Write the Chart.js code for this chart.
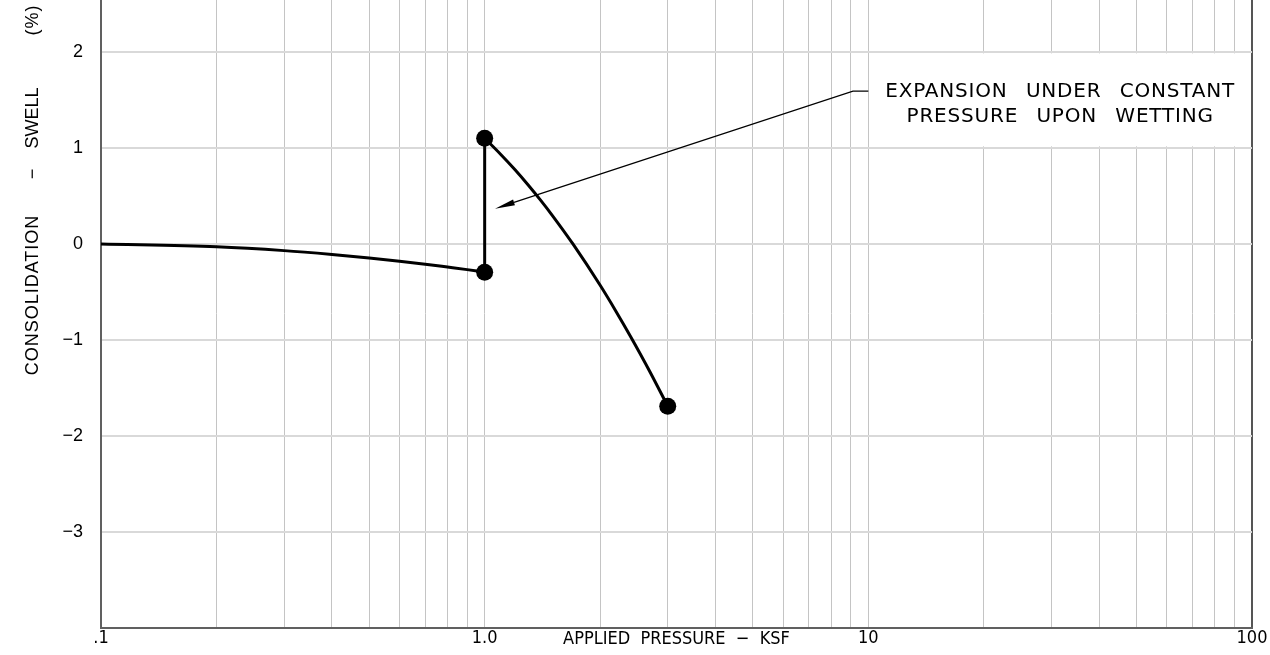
<!DOCTYPE html>
<html>
<head>
<meta charset="utf-8">
<script src="https://cdn.jsdelivr.net/npm/chart.js@4.4.1/dist/chart.umd.min.js"></script>
<style>
html,body{margin:0;padding:0;background:#ffffff;}
#wrap{width:1270px;height:655px;}
</style>
</head>
<body>
<div id="wrap"><canvas id="c" width="1270" height="655"></canvas></div>
<script>
// ---- data ----
const loadPressure   = [0.1, 0.2, 0.3, 0.4, 0.5, 0.6, 0.7, 0.8, 0.9, 1.0];
const loadStrain     = [0, -0.03, -0.07, -0.11, -0.146, -0.18, -0.211, -0.241, -0.268, -0.295];
const wetPressure    = [1.0, 1.0];
const wetStrain      = [-0.295, 1.10];
const reloadPressure = [1.0, 1.1, 1.2, 1.3, 1.4, 1.5, 1.7, 2.0, 2.2, 2.4, 2.7, 3.0];
const reloadStrain   = [1.10, 0.934, 0.772, 0.611, 0.453, 0.298, -0.003, -0.431, -0.703, -0.964, -1.336, -1.69];
const testPressure   = [1.0, 1.0, 3.0];
const testStrain     = [-0.295, 1.10, -1.69];

const xTickValues = [0.1,0.2,0.3,0.4,0.5,0.6,0.7,0.8,0.9,1,2,3,4,5,6,7,8,9,10,20,30,40,50,60,70,80,90,100];
const xLabelValues = [0.1, 1, 10, 100];
const xLabelTexts  = ['.1', '1.0', '10', '100'];
const yTickValues = [-4, -3, -2, -1, 0, 1, 2];
const yLabeledTicks = [-3, -2, -1, 0, 1, 2];

const xAxisTitle = 'APPLIED  PRESSURE  \u2212  KSF';
const yTitleParts = ['CONSOLIDATION', '\u2212', 'SWELL', '(%)'];
const noteLines = ['EXPANSION  UNDER  CONSTANT', 'PRESSURE  UPON  WETTING'];

const toPts = (xs, ys) => xs.map((v, i) => ({x: v, y: ys[i]}));

const CAD_FONT = "'DejaVu Sans Condensed', 'DejaVu Sans', sans-serif";
const SANS_FONT = "'Liberation Sans', Arial, sans-serif";

const notePlugin = {
  id: 'notePlugin',
  beforeDatasetsDraw(chart) {
    const {ctx, scales: {x, y}} = chart;
    const l = x.getPixelForValue(10) + 1.5, r = x.getPixelForValue(100) - 1.5;
    const t = y.getPixelForValue(2) + 1.5, b = y.getPixelForValue(1) - 1.5;
    ctx.save();
    ctx.fillStyle = '#ffffff';
    ctx.fillRect(l, t, r - l, b - t);
    ctx.restore();
  },
  afterDatasetsDraw(chart) {
    const {ctx, scales: {x, y}} = chart;
    ctx.save();
    ctx.fillStyle = '#000';
    ctx.font = "20px 'DejaVu Sans', sans-serif";
    if ('letterSpacing' in ctx) ctx.letterSpacing = '0.8px';
    if ('wordSpacing' in ctx) ctx.wordSpacing = '2px';
    ctx.textAlign = 'center';
    ctx.textBaseline = 'alphabetic';
    const cx = x.getPixelForValue(Math.sqrt(10 * 100));
    ctx.fillText(noteLines[0], cx, y.getPixelForValue(1.526));
    ctx.fillText(noteLines[1], cx, y.getPixelForValue(1.266));
    // leader + arrow
    const bx = x.getPixelForValue(10), ky = y.getPixelForValue(1.59);
    const kx = x.getPixelForValue(9.12);
    const tx = x.getPixelForValue(1.064), ty = y.getPixelForValue(0.367);
    ctx.strokeStyle = '#000';
    ctx.lineWidth = 1.3;
    ctx.beginPath();
    ctx.moveTo(bx, ky);
    ctx.lineTo(kx, ky);
    const ang = Math.atan2(ty - ky, tx - kx);
    const hl = 20, hw = 3;
    const baseX = tx - hl * Math.cos(ang), baseY = ty - hl * Math.sin(ang);
    ctx.lineTo(baseX, baseY);
    ctx.stroke();
    ctx.beginPath();
    ctx.moveTo(tx, ty);
    ctx.lineTo(baseX + hw * Math.sin(ang), baseY - hw * Math.cos(ang));
    ctx.lineTo(baseX - hw * Math.sin(ang), baseY + hw * Math.cos(ang));
    ctx.closePath();
    ctx.fillStyle = '#000';
    ctx.fill();
    ctx.restore();
  },
  afterDraw(chart) {
    const {ctx, chartArea, scales: {x}} = chart;
    ctx.save();
    ctx.fillStyle = '#000';
    ctx.font = '18px ' + CAD_FONT;
    ctx.textAlign = 'center';
    ctx.textBaseline = 'alphabetic';
    ctx.fillText(xAxisTitle, x.getPixelForValue(Math.sqrt(10)), chartArea.bottom + 16);
    ctx.font = '18px ' + SANS_FONT;
    const centers = [295, 174, 118, 20];
    const spacing = ['1px', '0px', '0px', '1px'];
    yTitleParts.forEach((txt, i) => {
      ctx.save();
      ctx.translate(38, centers[i]);
      ctx.rotate(-Math.PI / 2);
      if ('letterSpacing' in ctx) ctx.letterSpacing = spacing[i];
      ctx.textAlign = 'center';
      ctx.fillText(txt, 0, 0);
      ctx.restore();
    });
    ctx.restore();
  }
};

const lineStyle = {
  borderColor: '#000',
  borderWidth: 3,
  pointRadius: 0,
  fill: false,
  showLine: true
};

new Chart(document.getElementById('c'), {
  type: 'scatter',
  data: {
    datasets: [
      Object.assign({label: 'load', data: toPts(loadPressure, loadStrain), cubicInterpolationMode: 'monotone'}, lineStyle),
      Object.assign({label: 'wet', data: toPts(wetPressure, wetStrain), tension: 0}, lineStyle),
      Object.assign({label: 'reload', data: toPts(reloadPressure, reloadStrain), cubicInterpolationMode: 'monotone'}, lineStyle),
      {label: 'test', data: toPts(testPressure, testStrain), showLine: false,
       pointRadius: 8.5, pointBackgroundColor: '#000', pointBorderColor: '#000', pointBorderWidth: 0}
    ]
  },
  options: {
    responsive: false,
    devicePixelRatio: 1,
    animation: false,
    layout: {autoPadding: false, padding: {left: 0, right: 18, top: 0, bottom: 0}},
    plugins: {legend: {display: false}, tooltip: {enabled: false}},
    scales: {
      x: {
        type: 'logarithmic',
        min: 0.1, max: 100,
        afterBuildTicks(scale) { scale.ticks = xTickValues.map(v => ({value: v})); },
        afterFit(scale) { scale.height = 27; scale.paddingLeft = 0; scale.paddingRight = 0; },
        ticks: {
          autoSkip: false, maxRotation: 0, minRotation: 0, padding: 0,
          color: '#000',
          font: {size: 18, family: CAD_FONT},
          callback(value) {
            const k = xLabelValues.findIndex(v => Math.abs(v - value) < 1e-9);
            return k >= 0 ? xLabelTexts[k] : '';
          }
        },
        grid: {
          drawTicks: false,
          color: ctx => (ctx.tick && Math.abs(ctx.tick.value - 100) < 1e-9) ? '#555555' : '#c4c4c4',
          lineWidth: ctx => (ctx.tick && Math.abs(ctx.tick.value - 100) < 1e-9) ? 2 : 1
        },
        border: {display: true, color: '#606060', width: 2}
      },
      y: {
        type: 'linear',
        min: -4, max: 2.54,
        afterBuildTicks(scale) { scale.ticks = yTickValues.map(v => ({value: v})); },
        afterFit(scale) { scale.width = 101; scale.paddingTop = 0; scale.paddingBottom = 0; },
        ticks: {
          padding: 18,
          color: '#000',
          font: {size: 18, family: SANS_FONT},
          callback(value) {
            return yLabeledTicks.includes(value) ? String(value).replace('-', '\u2212') : '';
          }
        },
        grid: {drawTicks: false, color: '#d9d9d9', lineWidth: 2},
        border: {display: true, color: '#606060', width: 2}
      }
    }
  },
  plugins: [notePlugin]
});
</script>
</body>
</html>
